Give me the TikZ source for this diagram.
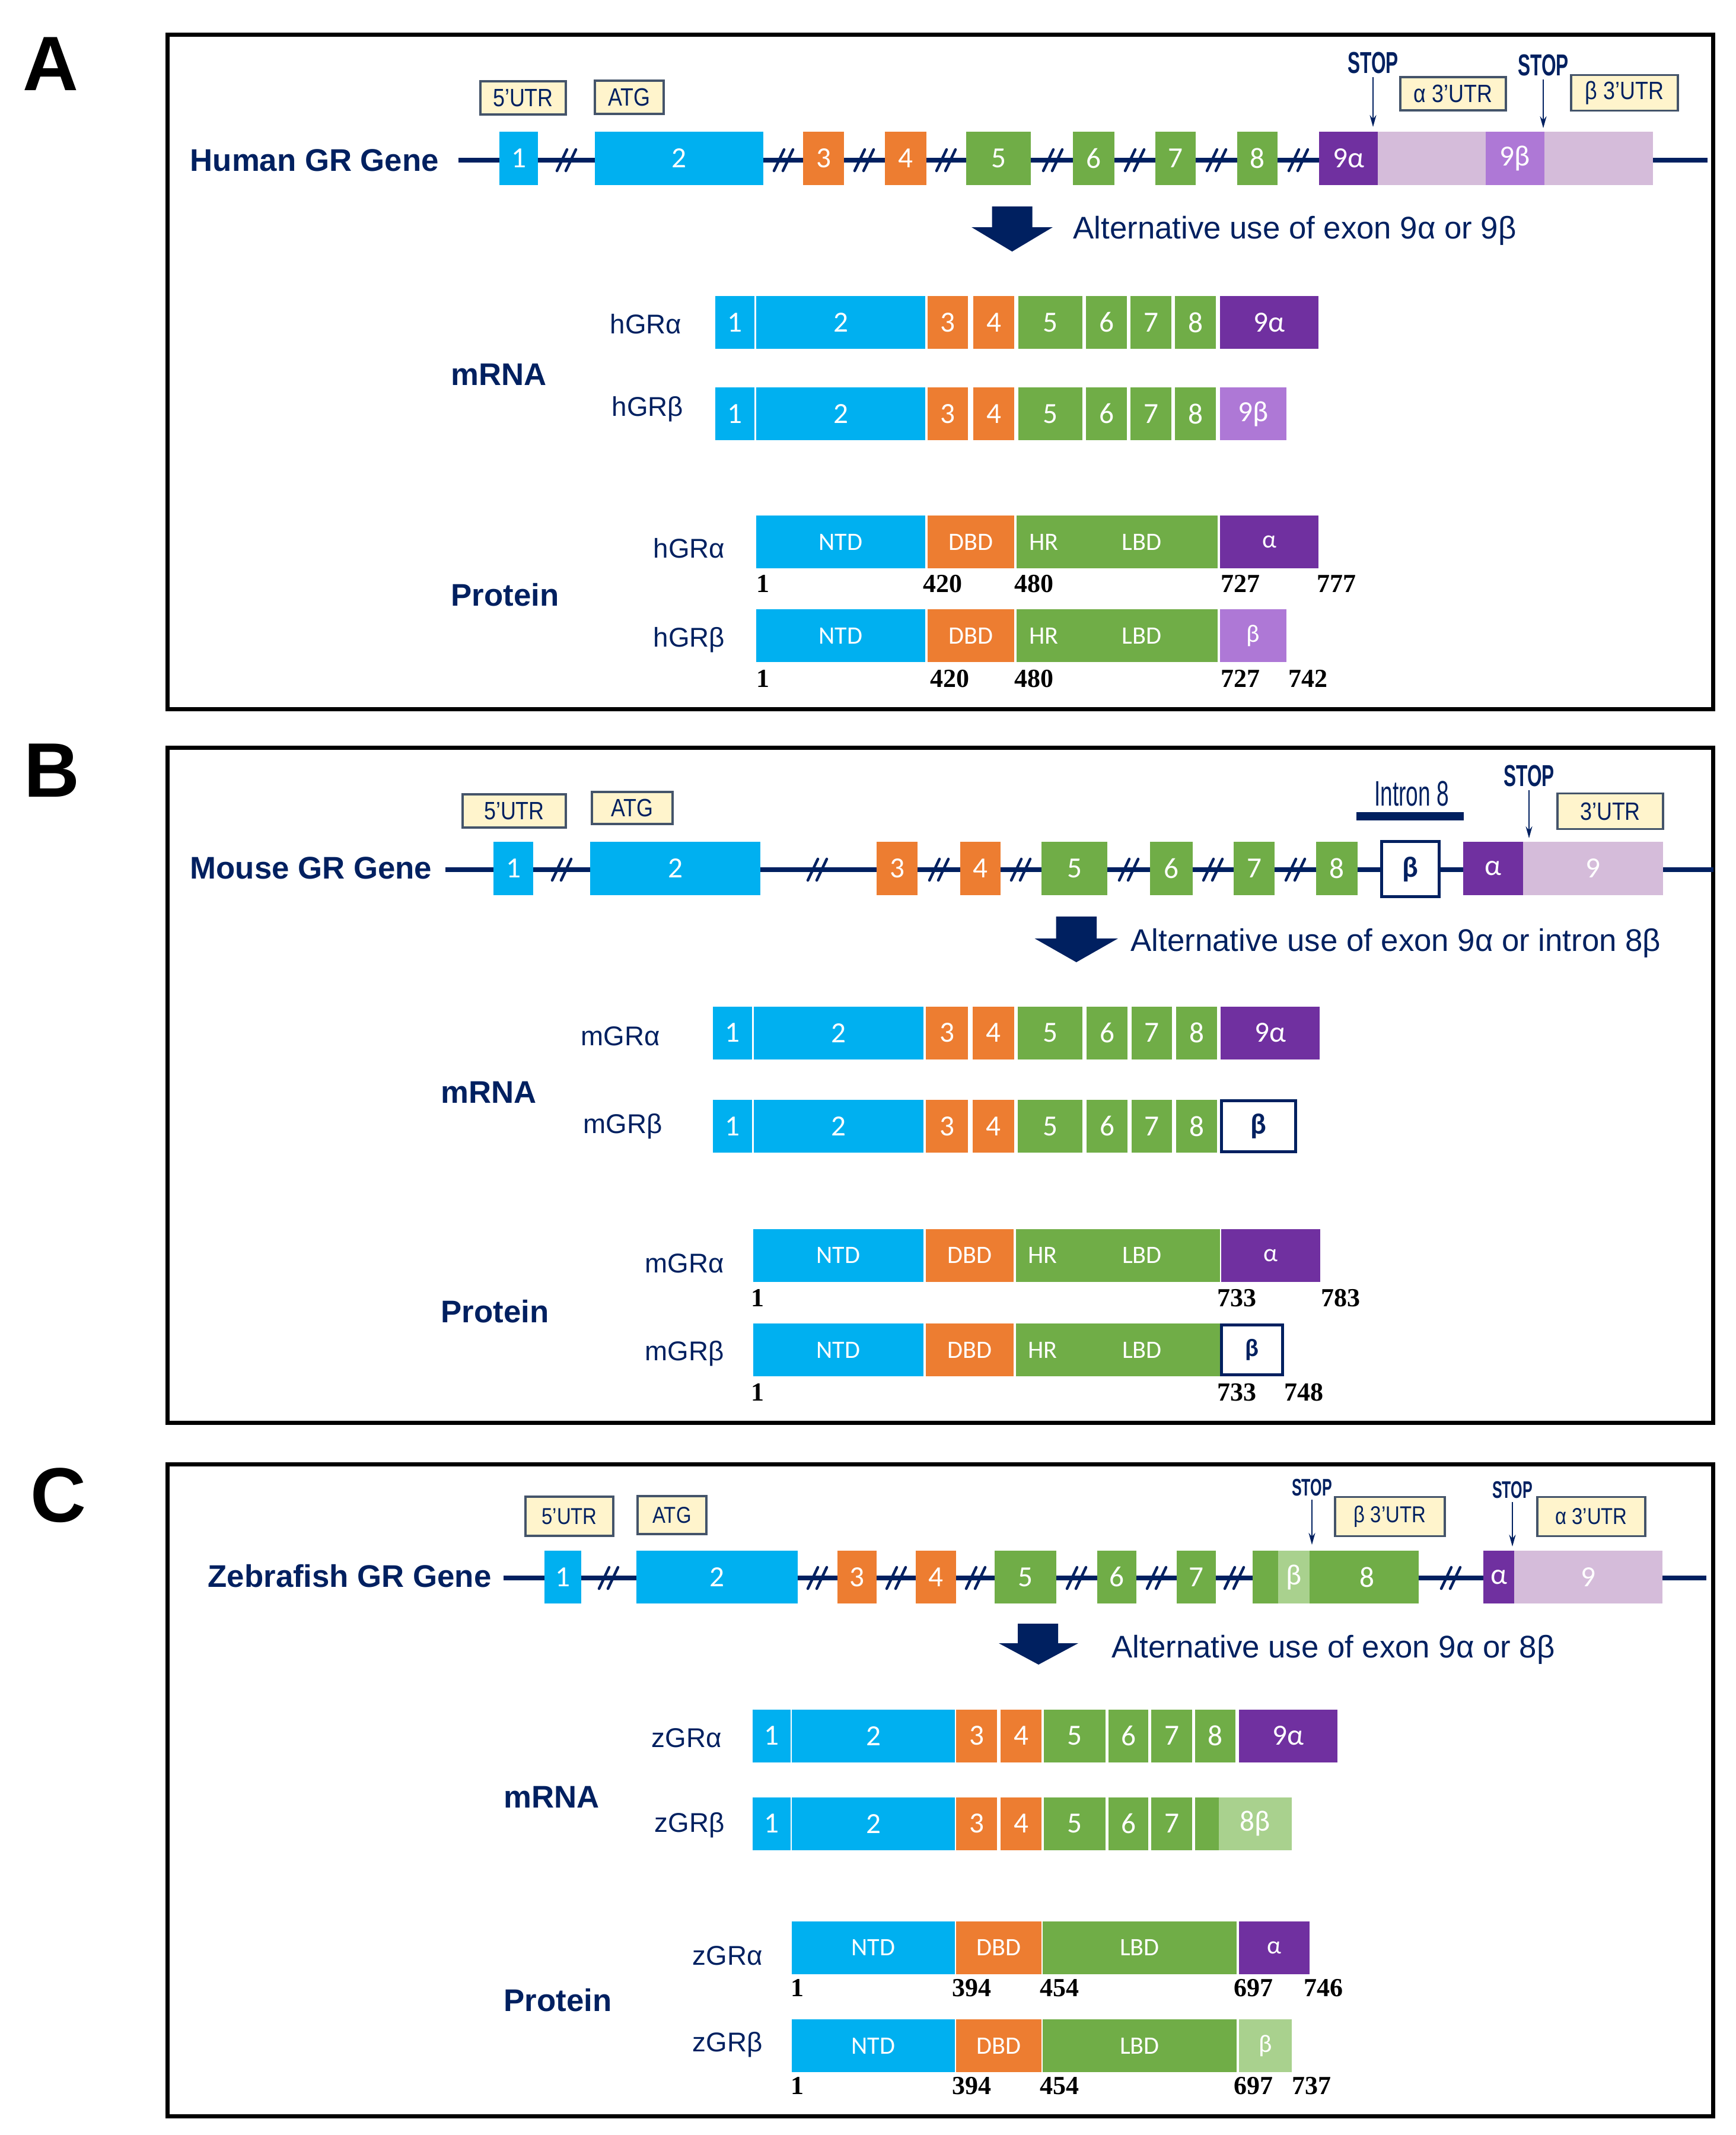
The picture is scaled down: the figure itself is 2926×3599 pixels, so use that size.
\documentclass[tikz,border=0pt]{standalone}
\usepackage{fontspec}
\setmainfont{Liberation Sans}
\newfontfamily\calfont{Carlito}
\newfontfamily\condfont[FakeStretch=0.85]{Liberation Sans}
\newfontfamily\narrowfont[FakeStretch=0.62]{Liberation Sans}
\newfontfamily\numfont{Liberation Serif}
\usetikzlibrary{arrows.meta,positioning}

\definecolor{exblue}{HTML}{00B0F0}
\definecolor{exorange}{HTML}{ED7D31}
\definecolor{exgreen}{HTML}{70AD47}
\definecolor{exlgreen}{HTML}{A9D18E}
\definecolor{expurple}{HTML}{7030A0}
\definecolor{exlilac}{HTML}{AE78D6}
\definecolor{utrpink}{HTML}{D5BCDA}
\definecolor{navy}{HTML}{002060}
\definecolor{cream}{HTML}{FFF4CC}
\definecolor{utrline}{HTML}{44546A}

\begin{document}
\begin{tikzpicture}[x=0.01cm, y=-0.01cm,
    panel/.style={draw=black, line width=0.07cm},
    panelletter/.style={anchor=base west, inner sep=0pt, font=\fontsize{37}{40}\selectfont\bfseries},
    genename/.style={anchor=base west, inner sep=0pt, text=navy, font=\fontsize{15}{18}\selectfont\bfseries},
    rowname/.style={anchor=base west, inner sep=0pt, text=navy, font=\fontsize{13}{16}\selectfont},
    altnote/.style={anchor=base west, inner sep=0pt, text=navy, font=\fontsize{15}{18}\selectfont},
    geneline/.style={draw=navy, line width=0.08cm},
    breakmark/.style={draw=navy, line width=0.045cm, line cap=round},
    exon/.style={rectangle, inner sep=0pt, minimum height=0.89cm, text=white, font=\calfont\fontsize{14}{16}\selectfont},
    protdom/.style={exon, font=\calfont\fontsize{12}{14}\selectfont},
    domtext/.style={inner sep=0pt, text=white, font=\calfont\fontsize{12}{14}\selectfont},
    openbox/.style={exon, fill=white, draw=navy, line width=0.05cm, text=navy, font=\calfont\fontsize{14}{16}\selectfont\bfseries},
    utrbox/.style={rectangle, draw=utrline, fill=cream, line width=0.035cm, inner sep=0pt, minimum height=0.56cm, text=navy, font=\condfont\fontsize{12}{14}\selectfont},
    stoplabel/.style={inner sep=0.5mm, text=navy, font=\narrowfont\fontsize{14.5}{16}\selectfont\bfseries},
    stoparrow/.style={draw=navy, line width=0.025cm, -{Stealth[length=0.2cm, width=0.11cm]}},
    residue/.style={anchor=base west, inner sep=0pt, font=\numfont\fontsize{12.5}{14}\selectfont\bfseries},
    bigarrow/.style={fill=navy}]

\useasboundingbox (0,0) rectangle (2926,3599);

% frames and letters
\draw[panel] (282,58) rectangle (2888,1195);
\draw[panel] (282,1260) rectangle (2888,2398);
\draw[panel] (282,2468) rectangle (2888,3567);
\node[panelletter] (lettA) at (38,152) {A};
\node[panelletter] (lettB) at (40,1343) {B};
\node[panelletter] (lettC) at (51,2565) {C};

%%% A: human
\node[genename] (hgene) at (320,288) {Human GR Gene};
\coordinate (hgstart) at (773,270);
\coordinate (hgend) at (2879,270);
\draw[geneline] (hgstart) -- (hgend);
\foreach \bx in {955,1321,1457,1595,1775,1913,2051,2189}
    \draw[breakmark] (\bx-16,288) -- (\bx+1,252) (\bx-1,288) -- (\bx+16,252);
\node[exon, fill=exblue, minimum width=0.65cm] (hg1) at (874.5,267) {1};
\node[exon, fill=exblue, minimum width=2.84cm] (hg2) at (1145,267) {2};
\node[exon, fill=exorange, minimum width=0.69cm] (hg3) at (1388.5,267) {3};
\node[exon, fill=exorange, minimum width=0.70cm] (hg4) at (1527,267) {4};
\node[exon, fill=exgreen, minimum width=1.09cm] (hg5) at (1683.5,267) {5};
\node[exon, fill=exgreen, minimum width=0.70cm] (hg6) at (1844,267) {6};
\node[exon, fill=exgreen, minimum width=0.68cm] (hg7) at (1982,267) {7};
\node[exon, fill=exgreen, minimum width=0.68cm] (hg8) at (2120,267) {8};
\node[exon, fill=expurple, minimum width=0.99cm] (hg9a) at (2273.5,267) {9α};
\node[exon, fill=utrpink, minimum width=4.64cm] (hgutr) at (2555,267) {};
\node[exon, fill=exlilac, minimum width=0.99cm] (hg9b) at (2554.5,267) {9β};

\node[utrbox, minimum width=1.44cm] (hutr5) at (882,165) {5’UTR};
\node[utrbox, minimum width=1.16cm] (hatg) at (1061,164) {ATG};
\node[stoplabel] (hstop1) at (2315,106) {STOP};
\coordinate (hstop1end) at (2315,214);
\draw[stoparrow] (hstop1) -- (hstop1end);
\node[utrbox, minimum width=1.78cm] (hutra) at (2450,158) {α 3’UTR};
\node[stoplabel] (hstop2) at (2602,110) {STOP};
\coordinate (hstop2end) at (2602,216);
\draw[stoparrow] (hstop2) -- (hstop2end);
\node[utrbox, minimum width=1.80cm, minimum height=0.6cm] (hutrb) at (2739,156.5) {β 3’UTR};

\fill[bigarrow] (1672.5,348) -- (1740.5,348) -- (1740.5,383) -- (1775,383) -- (1706.5,424) -- (1638,383) -- (1672.5,383) -- cycle;
\node[altnote] (halt) at (1809,402) {Alternative use of exon 9α or 9β};

% human mRNA
\node[genename] (hmrna) at (760,649) {mRNA};
\node[rowname] (hmaname) at (1028,562) {hGRα};
\node[rowname] (hmbname) at (1031,701) {hGRβ};
\node[exon, fill=exblue, minimum width=0.66cm] (hma1) at (1239,543.5) {1};
\node[exon, fill=exblue, minimum width=2.85cm] (hma2) at (1417.5,543.5) {2};
\node[exon, fill=exorange, minimum width=0.68cm] (hma3) at (1598,543.5) {3};
\node[exon, fill=exorange, minimum width=0.69cm] (hma4) at (1675.5,543.5) {4};
\node[exon, fill=exgreen, minimum width=1.08cm] (hma5) at (1771,543.5) {5};
\node[exon, fill=exgreen, minimum width=0.69cm] (hma6) at (1865.5,543.5) {6};
\node[exon, fill=exgreen, minimum width=0.69cm] (hma7) at (1940.5,543.5) {7};
\node[exon, fill=exgreen, minimum width=0.69cm] (hma8) at (2015.5,543.5) {8};
\node[exon, fill=expurple, minimum width=1.66cm] (hma9) at (2140,543.5) {9α};
\node[exon, fill=exblue, minimum width=0.66cm] (hmb1) at (1239,697.5) {1};
\node[exon, fill=exblue, minimum width=2.85cm] (hmb2) at (1417.5,697.5) {2};
\node[exon, fill=exorange, minimum width=0.68cm] (hmb3) at (1598,697.5) {3};
\node[exon, fill=exorange, minimum width=0.69cm] (hmb4) at (1675.5,697.5) {4};
\node[exon, fill=exgreen, minimum width=1.08cm] (hmb5) at (1771,697.5) {5};
\node[exon, fill=exgreen, minimum width=0.69cm] (hmb6) at (1865.5,697.5) {6};
\node[exon, fill=exgreen, minimum width=0.69cm] (hmb7) at (1940.5,697.5) {7};
\node[exon, fill=exgreen, minimum width=0.69cm] (hmb8) at (2015.5,697.5) {8};
\node[exon, fill=exlilac, minimum width=1.12cm] (hmb9) at (2113,697.5) {9β};

% human protein
\node[genename] (hprot) at (760,1021) {Protein};
\node[rowname] (hpaname) at (1101,940) {hGRα};
\node[rowname] (hpbname) at (1101,1090) {hGRβ};
\node[protdom, fill=exblue, minimum width=2.85cm] (hpantd) at (1417.5,913.5) {NTD};
\node[protdom, fill=exorange, minimum width=1.46cm] (hpadbd) at (1637,913.5) {DBD};
\node[protdom, fill=exgreen, minimum width=3.39cm] (hpalbd) at (1883.5,913.5) {};
\node[domtext] (hpahr) at (1760,913.5) {HR};
\node[domtext] (hpalbdt) at (1925,913.5) {LBD};
\node[protdom, fill=expurple, minimum width=1.66cm] (hpaend) at (2140,913.5) {α};
\node[residue] (hra1) at (1275,998) {1};
\node[residue] (hra2) at (1556,998) {420};
\node[residue] (hra3) at (1710,998) {480};
\node[residue] (hra4) at (2058,998) {727};
\node[residue] (hra5) at (2220,998) {777};
\node[protdom, fill=exblue, minimum width=2.85cm] (hpbntd) at (1417.5,1071.5) {NTD};
\node[protdom, fill=exorange, minimum width=1.46cm] (hpbdbd) at (1637,1071.5) {DBD};
\node[protdom, fill=exgreen, minimum width=3.39cm] (hpblbd) at (1883.5,1071.5) {};
\node[domtext] (hpbhr) at (1760,1071.5) {HR};
\node[domtext] (hpblbdt) at (1925,1071.5) {LBD};
\node[protdom, fill=exlilac, minimum width=1.12cm] (hpbend) at (2113,1071.5) {β};
\node[residue] (hrb1) at (1275,1158) {1};
\node[residue] (hrb2) at (1568,1158) {420};
\node[residue] (hrb3) at (1710,1158) {480};
\node[residue] (hrb4) at (2058,1158) {727};
\node[residue] (hrb5) at (2172,1158) {742};

%%% B: mouse
\node[genename] (mgene) at (320,1481) {Mouse GR Gene};
\coordinate (mgstart) at (751,1466);
\coordinate (mgend) at (2889,1466);
\draw[geneline] (mgstart) -- (mgend);
\foreach \bx in {947,1378,1583,1721,1903,2045,2184}
    \draw[breakmark] (\bx-16,1484) -- (\bx+1,1448) (\bx-1,1484) -- (\bx+16,1448);
\node[exon, fill=exblue, minimum width=0.67cm] (mg1) at (865.5,1464) {1};
\node[exon, fill=exblue, minimum width=2.87cm] (mg2) at (1138.5,1464) {2};
\node[exon, fill=exorange, minimum width=0.69cm] (mg3) at (1512.5,1464) {3};
\node[exon, fill=exorange, minimum width=0.68cm] (mg4) at (1653,1464) {4};
\node[exon, fill=exgreen, minimum width=1.11cm] (mg5) at (1811.5,1464) {5};
\node[exon, fill=exgreen, minimum width=0.72cm] (mg6) at (1975,1464) {6};
\node[exon, fill=exgreen, minimum width=0.69cm] (mg7) at (2114.5,1464) {7};
\node[exon, fill=exgreen, minimum width=0.70cm] (mg8) at (2254,1464) {8};
\node[openbox, minimum width=0.97cm, minimum height=0.92cm] (mgb) at (2378,1465) {β};
\node[exon, fill=expurple, minimum width=1.01cm] (mga) at (2517.5,1464) {α};
\node[exon, fill=utrpink, minimum width=2.36cm] (mg9) at (2686,1464) {9};

\node[utrbox, minimum width=1.74cm] (mutr5) at (867,1367) {5’UTR};
\node[utrbox, minimum width=1.36cm, minimum height=0.54cm] (matg) at (1066,1362) {ATG};
\node[inner sep=0pt, text=navy, font=\narrowfont\fontsize{17}{19}\selectfont] (mintron) at (2380,1338) {Intron 8};
\fill[navy] (2287,1369) rectangle (2468,1383);
\node[stoplabel] (mstop) at (2578,1308) {STOP};
\coordinate (mstopend) at (2578,1413);
\draw[stoparrow] (mstop) -- (mstopend);
\node[utrbox, minimum width=1.78cm, minimum height=0.6cm] (mutr3) at (2715,1367.5) {3’UTR};

\fill[bigarrow] (1780.5,1545) -- (1849,1545) -- (1849,1582) -- (1885,1582) -- (1814.75,1622) -- (1744.5,1582) -- (1780.5,1582) -- cycle;
\node[altnote] (malt) at (1906,1603) {Alternative use of exon 9α or intron 8β};

% mouse mRNA
\node[genename] (mmrna) at (743,1859) {mRNA};
\node[rowname] (mmaname) at (979,1762) {mGRα};
\node[rowname] (mmbname) at (983,1910) {mGRβ};
\node[exon, fill=exblue, minimum width=0.66cm] (mma1) at (1235,1741) {1};
\node[exon, fill=exblue, minimum width=2.86cm] (mma2) at (1414,1741) {2};
\node[exon, fill=exorange, minimum width=0.71cm] (mma3) at (1596.5,1741) {3};
\node[exon, fill=exorange, minimum width=0.70cm] (mma4) at (1675,1741) {4};
\node[exon, fill=exgreen, minimum width=1.09cm] (mma5) at (1770.5,1741) {5};
\node[exon, fill=exgreen, minimum width=0.69cm] (mma6) at (1866.5,1741) {6};
\node[exon, fill=exgreen, minimum width=0.68cm] (mma7) at (1942,1741) {7};
\node[exon, fill=exgreen, minimum width=0.69cm] (mma8) at (2017.5,1741) {8};
\node[exon, fill=expurple, minimum width=1.67cm] (mma9) at (2141.5,1741) {9α};
\node[exon, fill=exblue, minimum width=0.66cm] (mmb1) at (1235,1898.5) {1};
\node[exon, fill=exblue, minimum width=2.86cm] (mmb2) at (1414,1898.5) {2};
\node[exon, fill=exorange, minimum width=0.71cm] (mmb3) at (1596.5,1898.5) {3};
\node[exon, fill=exorange, minimum width=0.70cm] (mmb4) at (1675,1898.5) {4};
\node[exon, fill=exgreen, minimum width=1.09cm] (mmb5) at (1770.5,1898.5) {5};
\node[exon, fill=exgreen, minimum width=0.69cm] (mmb6) at (1866.5,1898.5) {6};
\node[exon, fill=exgreen, minimum width=0.68cm] (mmb7) at (1942,1898.5) {7};
\node[exon, fill=exgreen, minimum width=0.69cm] (mmb8) at (2017.5,1898.5) {8};
\node[openbox, minimum width=1.25cm, minimum height=0.86cm] (mmb9) at (2122,1898.5) {β};

% mouse protein
\node[genename] (mprot) at (743,2229) {Protein};
\node[rowname] (mpaname) at (1087,2145) {mGRα};
\node[rowname] (mpbname) at (1087,2293) {mGRβ};
\node[protdom, fill=exblue, minimum width=2.87cm] (mpantd) at (1413.5,2116) {NTD};
\node[protdom, fill=exorange, minimum width=1.48cm] (mpadbd) at (1635,2116) {DBD};
\node[protdom, fill=exgreen, minimum width=3.44cm] (mpalbd) at (1885,2116) {};
\node[domtext] (mpahr) at (1758,2116) {HR};
\node[domtext] (mpalbdt) at (1925.5,2116) {LBD};
\node[protdom, fill=expurple, minimum width=1.67cm] (mpaend) at (2142.5,2116) {α};
\node[residue] (mra1) at (1266,2202) {1};
\node[residue] (mra2) at (2052,2202) {733};
\node[residue] (mra3) at (2227,2202) {783};
\node[protdom, fill=exblue, minimum width=2.87cm] (mpbntd) at (1413.5,2275.5) {NTD};
\node[protdom, fill=exorange, minimum width=1.48cm] (mpbdbd) at (1635,2275.5) {DBD};
\node[protdom, fill=exgreen, minimum width=3.44cm] (mpblbd) at (1885,2275.5) {};
\node[domtext] (mpbhr) at (1758,2275.5) {HR};
\node[domtext] (mpblbdt) at (1925.5,2275.5) {LBD};
\node[openbox, minimum width=1.03cm, minimum height=0.84cm, font=\calfont\fontsize{12}{14}\selectfont\bfseries] (mpbend) at (2111,2275.5) {β};
\node[residue] (mrb1) at (1266,2361) {1};
\node[residue] (mrb2) at (2052,2361) {733};
\node[residue] (mrb3) at (2165,2361) {748};

%%% C: zebrafish
\node[genename] (zgene) at (350,2675) {Zebrafish GR Gene};
\coordinate (zgstart) at (849,2660);
\coordinate (zgend) at (2877,2660);
\draw[geneline] (zgstart) -- (zgend);
\foreach \bx in {1026,1378,1511,1645,1815,1950,2081,2446}
    \draw[breakmark] (\bx-16,2678) -- (\bx+1,2642) (\bx-1,2678) -- (\bx+16,2642);
\node[exon, fill=exblue, minimum width=0.62cm] (zg1) at (949,2658.5) {1};
\node[exon, fill=exblue, minimum width=2.72cm] (zg2) at (1209,2658.5) {2};
\node[exon, fill=exorange, minimum width=0.66cm] (zg3) at (1445,2658.5) {3};
\node[exon, fill=exorange, minimum width=0.68cm] (zg4) at (1578,2658.5) {4};
\node[exon, fill=exgreen, minimum width=1.04cm] (zg5) at (1729,2658.5) {5};
\node[exon, fill=exgreen, minimum width=0.66cm] (zg6) at (1883,2658.5) {6};
\node[exon, fill=exgreen, minimum width=0.66cm] (zg7) at (2017,2658.5) {7};
\node[exon, fill=exgreen, minimum width=2.80cm] (zg8) at (2252,2658.5) {};
\node[exon, fill=exlgreen, minimum width=0.53cm] (zgb) at (2181.5,2658.5) {β};
\node[exon, fill=none] (zg8t) at (2305,2658.5) {8};
\node[exon, fill=expurple, minimum width=0.52cm] (zga) at (2527,2658.5) {α};
\node[exon, fill=utrpink, minimum width=2.50cm] (zg9) at (2678,2658.5) {9};

\node[utrbox, minimum width=1.48cm, minimum height=0.66cm, font=\condfont\fontsize{11}{13}\selectfont] (zutr5) at (960,2556) {5’UTR};
\node[utrbox, minimum width=1.16cm, minimum height=0.64cm, font=\condfont\fontsize{11}{13}\selectfont] (zatg) at (1133,2554) {ATG};
\node[stoplabel, font=\narrowfont\fontsize{11.5}{13}\selectfont\bfseries] (zstop1) at (2212,2508) {STOP};
\coordinate (zstop1end) at (2212,2604);
\draw[stoparrow] (zstop1) -- (zstop1end);
\node[utrbox, minimum width=1.85cm, minimum height=0.66cm, font=\condfont\fontsize{11}{13}\selectfont] (zutrb) at (2343.5,2556.5) {β 3’UTR};
\node[stoplabel, font=\narrowfont\fontsize{11.5}{13}\selectfont\bfseries] (zstop2) at (2550,2512) {STOP};
\coordinate (zstop2end) at (2550,2607);
\draw[stoparrow] (zstop2) -- (zstop2end);
\node[utrbox, minimum width=1.82cm, minimum height=0.66cm, font=\condfont\fontsize{11}{13}\selectfont] (zutra) at (2683,2556.5) {α 3’UTR};

\fill[bigarrow] (1716,2737) -- (1784,2737) -- (1784,2770) -- (1818,2770) -- (1751,2806) -- (1684,2770) -- (1716,2770) -- cycle;
\node[altnote] (zalt) at (1874,2794) {Alternative use of exon 9α or 8β};

% zebrafish mRNA
\node[genename] (zmrna) at (849,3047) {mRNA};
\node[rowname] (zmaname) at (1098,2945) {zGRα};
\node[rowname] (zmbname) at (1103,3088) {zGRβ};
\node[exon, fill=exblue, minimum width=0.64cm] (zma1) at (1301,2926) {1};
\node[exon, fill=exblue, minimum width=2.75cm] (zma2) at (1472.5,2926) {2};
\node[exon, fill=exorange, minimum width=0.69cm] (zma3) at (1646.5,2926) {3};
\node[exon, fill=exorange, minimum width=0.69cm] (zma4) at (1721.5,2926) {4};
\node[exon, fill=exgreen, minimum width=1.04cm] (zma5) at (1812,2926) {5};
\node[exon, fill=exgreen, minimum width=0.67cm] (zma6) at (1902.5,2926) {6};
\node[exon, fill=exgreen, minimum width=0.69cm] (zma7) at (1975.5,2926) {7};
\node[exon, fill=exgreen, minimum width=0.68cm] (zma8) at (2049,2926) {8};
\node[exon, fill=expurple, minimum width=1.66cm] (zma9) at (2172,2926) {9α};
\node[exon, fill=exblue, minimum width=0.64cm] (zmb1) at (1301,3074) {1};
\node[exon, fill=exblue, minimum width=2.75cm] (zmb2) at (1472.5,3074) {2};
\node[exon, fill=exorange, minimum width=0.69cm] (zmb3) at (1646.5,3074) {3};
\node[exon, fill=exorange, minimum width=0.69cm] (zmb4) at (1721.5,3074) {4};
\node[exon, fill=exgreen, minimum width=1.04cm] (zmb5) at (1812,3074) {5};
\node[exon, fill=exgreen, minimum width=0.67cm] (zmb6) at (1902.5,3074) {6};
\node[exon, fill=exgreen, minimum width=0.69cm] (zmb7) at (1975.5,3074) {7};
\node[exon, fill=exgreen, minimum width=0.40cm] (zmb8) at (2035,3074) {};
\node[exon, fill=exlgreen, minimum width=1.23cm] (zmb9) at (2116.5,3074) {8β};

% zebrafish protein
\node[genename] (zprot) at (849,3390) {Protein};
\node[rowname] (zpaname) at (1167,3312) {zGRα};
\node[rowname] (zpbname) at (1167,3458) {zGRβ};
\node[protdom, fill=exblue, minimum width=2.75cm] (zpantd) at (1472.5,3283) {NTD};
\node[protdom, fill=exorange, minimum width=1.44cm] (zpadbd) at (1684,3283) {DBD};
\node[protdom, fill=exgreen, minimum width=3.27cm] (zpalbd) at (1921.5,3283) {LBD};
\node[protdom, fill=expurple, minimum width=1.19cm] (zpaend) at (2148.5,3283) {α};
\node[residue] (zra1) at (1333,3365) {1};
\node[residue] (zra2) at (1605,3365) {394};
\node[residue] (zra3) at (1753,3365) {454};
\node[residue] (zra4) at (2080,3365) {697};
\node[residue] (zra5) at (2198,3365) {746};
\node[protdom, fill=exblue, minimum width=2.75cm] (zpbntd) at (1472.5,3448.5) {NTD};
\node[protdom, fill=exorange, minimum width=1.44cm] (zpbdbd) at (1684,3448.5) {DBD};
\node[protdom, fill=exgreen, minimum width=3.27cm] (zpblbd) at (1921.5,3448.5) {LBD};
\node[protdom, fill=exlgreen, minimum width=0.89cm] (zpbend) at (2133.5,3448.5) {β};
\node[residue] (zrb1) at (1333,3530) {1};
\node[residue] (zrb2) at (1605,3530) {394};
\node[residue] (zrb3) at (1753,3530) {454};
\node[residue] (zrb4) at (2080,3530) {697};
\node[residue] (zrb5) at (2178,3530) {737};
\end{tikzpicture}
\end{document}
